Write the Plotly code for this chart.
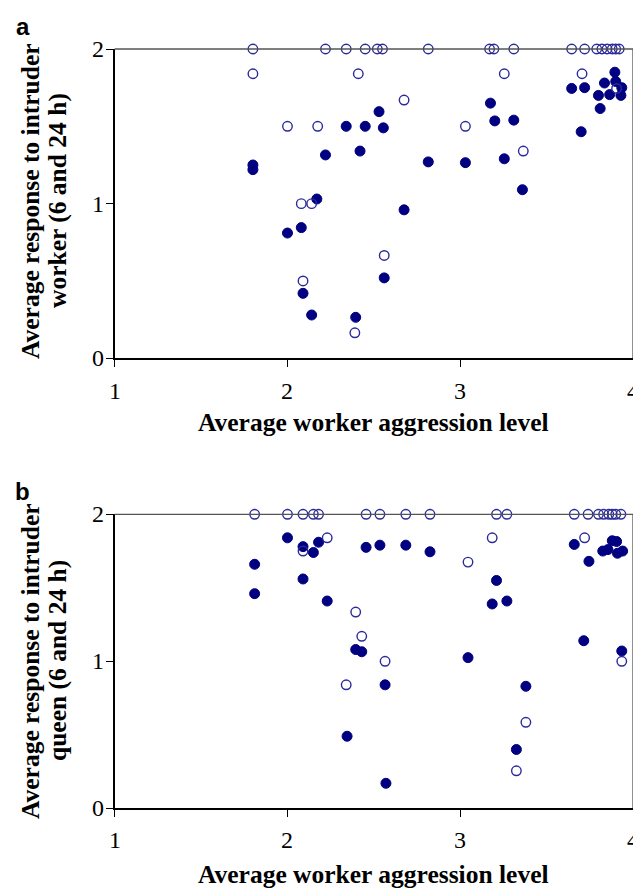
import plotly.graph_objects as go

# ---------------- data ----------------
# Panel a: response to intruder worker
a_filled_x = [1.80, 1.80, 2.00, 2.08, 2.09, 2.14, 2.17, 2.22, 2.34, 2.395, 2.42, 2.45, 2.53, 2.555,
              2.56, 2.675, 2.815, 3.03, 3.175, 3.20, 3.255, 3.31, 3.36, 3.645, 3.70, 3.72, 3.80,
              3.81, 3.835, 3.865, 3.895, 3.90, 3.93, 3.935]
a_filled_y = [1.22, 1.25, 0.81, 0.845, 0.42, 0.28, 1.03, 1.315, 1.50, 0.265, 1.34, 1.50, 1.595, 1.49,
              0.52, 0.96, 1.27, 1.265, 1.65, 1.535, 1.29, 1.54, 1.09, 1.745, 1.465, 1.75, 1.70,
              1.615, 1.78, 1.705, 1.85, 1.79, 1.70, 1.75]
a_open_x = [1.80, 2.22, 2.34, 2.45, 2.52, 2.55, 2.815, 3.17, 3.195, 3.31, 3.645, 3.72, 3.79, 3.82,
            3.85, 3.88, 3.90, 3.92,
            1.80, 2.00, 2.175, 2.08, 2.14, 2.09, 2.39, 2.41, 2.56, 2.675, 3.03, 3.255, 3.365,
            3.705, 3.905]
a_open_y = [2, 2, 2, 2, 2, 2, 2, 2, 2, 2, 2, 2, 2, 2,
            2, 2, 2, 2,
            1.84, 1.50, 1.50, 1.00, 1.00, 0.50, 0.165, 1.84, 0.665, 1.67, 1.50, 1.84, 1.34,
            1.84, 1.745]

# Panel b: response to intruder queen
b_filled_x = [2.00, 2.18, 2.09, 2.15, 1.81, 1.81, 2.09, 2.23, 2.395, 2.43, 2.455, 2.535, 2.685,
              2.825, 3.21, 3.185, 3.27, 3.045, 2.345, 2.565, 2.57, 3.38, 3.325, 3.66, 3.745,
              3.715, 3.825, 3.855, 3.88, 3.905, 3.91, 3.94, 3.935]
b_filled_y = [1.84, 1.81, 1.78, 1.74, 1.66, 1.46, 1.56, 1.41, 1.08, 1.065, 1.775, 1.79, 1.79,
              1.745, 1.55, 1.39, 1.41, 1.025, 0.49, 0.84, 0.17, 0.83, 0.40, 1.795, 1.68,
              1.14, 1.75, 1.76, 1.82, 1.815, 1.735, 1.75, 1.07]
b_open_x = [1.81, 2.00, 2.09, 2.15, 2.18, 2.455, 2.535, 2.685, 2.825, 3.21, 3.27, 3.66, 3.74,
            3.80, 3.83, 3.86, 3.88, 3.90, 3.93,
            2.23, 2.09, 2.395, 2.43, 2.565, 2.34, 3.045, 3.185, 3.72, 3.38, 3.325, 3.935]
b_open_y = [2, 2, 2, 2, 2, 2, 2, 2, 2, 2, 2, 2, 2,
            2, 2, 2, 2, 2, 2,
            1.84, 1.75, 1.335, 1.17, 1.00, 0.84, 1.675, 1.84, 1.84, 0.585, 0.255, 1.00]

x_ticks = [1, 2, 3, 4]
y_ticks = [0, 1, 2]
x_tick_labels = ["1", "2", "3", "4"]
y_tick_labels = ["0", "1", "2"]
x_title = "Average worker aggression level"
y_title_a = ["Average response to intruder", "worker (6 and 24 h)"]
y_title_b = ["Average response to intruder", "queen (6 and 24 h)"]
panel_labels = ["a", "b"]

# ---------------- layout ----------------
# The page body has an 8px margin, so the figure sits at (8, 8) inside the
# 641x891 window; page-pixel positions are converted to paper fractions.
PAGE_W, PAGE_H = 641, 891
OFF = 8
W, H = PAGE_W - OFF, PAGE_H - OFF


def px(xp):
    return (xp - OFF) / W


def py(yp):
    return (PAGE_H - yp) / H


NAVY = "#000080"
SERIF = "Liberation Serif, Times New Roman, serif"
SANS = "Liberation Sans, Arial, sans-serif"

x_dom = [px(114.7), px(633)]
ya_dom = [py(358.3), py(49)]
yb_dom = [py(808.3), py(514.3)]

fig = go.Figure()


def add_panel(fx, fy, ox, oy, xa, ya):
    fig.add_trace(go.Scatter(
        x=fx, y=fy, mode="markers", xaxis=xa, yaxis=ya, cliponaxis=False,
        marker=dict(symbol="circle", size=10, color=NAVY, line=dict(color=NAVY, width=1)),
        showlegend=False, hoverinfo="x+y"))
    fig.add_trace(go.Scatter(
        x=ox, y=oy, mode="markers", xaxis=xa, yaxis=ya, cliponaxis=False,
        marker=dict(symbol="circle-open", size=9.5, color="#2a2a9a", line=dict(width=1.4)),
        showlegend=False, hoverinfo="x+y"))


add_panel(a_filled_x, a_filled_y, a_open_x, a_open_y, "x", "y")
add_panel(b_filled_x, b_filled_y, b_open_x, b_open_y, "x2", "y2")

xaxis_common = dict(
    range=[1, 4], tickmode="array", tickvals=x_ticks, showticklabels=False,
    showgrid=False, zeroline=False, showline=True, linecolor="black", linewidth=1.5,
    ticks="outside", ticklen=7, tickwidth=1.2, tickcolor="black", fixedrange=True,
)
yaxis_common = dict(
    range=[0, 2], tickmode="array", tickvals=y_ticks, showticklabels=False,
    showgrid=False, zeroline=False, showline=True, linecolor="black", linewidth=1.5,
    ticks="outside", ticklen=7, tickwidth=1.2, tickcolor="black", fixedrange=True,
)

fig.update_layout(
    width=W, height=H, autosize=False,
    margin=dict(l=0, r=0, t=0, b=0),
    paper_bgcolor="white", plot_bgcolor="white",
    xaxis=dict(domain=x_dom, anchor="y", **xaxis_common),
    yaxis=dict(domain=ya_dom, anchor="x", **yaxis_common),
    xaxis2=dict(domain=x_dom, anchor="y2", **xaxis_common),
    yaxis2=dict(domain=yb_dom, anchor="x2", **yaxis_common),
)

# top and right frame lines (grey)
for xa, ya in (("x", "y"), ("x2", "y2")):
    fig.add_shape(type="line", xref=f"{xa} domain", yref=f"{ya} domain",
                  x0=0, x1=1, y0=1, y1=1, line=dict(color="#555555", width=1.3))
    fig.add_shape(type="line", xref=f"{xa} domain", yref=f"{ya} domain",
                  x0=1, x1=1, y0=0, y1=1, line=dict(color="#555555", width=1.3))

TICKFONT = dict(family=SERIF, size=24, color="black")
TITLEFONT = dict(family=SERIF, size=25.5, color="black")

annotations = []
# tick labels
for xa, ya, xlab_pix in (("x", "y", 391), ("x2", "y2", 840)):
    for v, t in zip(x_ticks, x_tick_labels):
        annotations.append(dict(text=t, x=v, xref=xa, y=py(xlab_pix), yref="paper",
                                xanchor="center", yanchor="middle", showarrow=False, font=TICKFONT))
    for v, t in zip(y_ticks, y_tick_labels):
        annotations.append(dict(text=t, x=px(106), xref="paper", y=v, yref=ya,
                                xanchor="right", yanchor="middle", showarrow=False, font=TICKFONT))

xc = (x_dom[0] + x_dom[1]) / 2
# x titles
for ypix in (423, 874):
    annotations.append(dict(text=f"<b>{x_title}</b>", x=xc, y=py(ypix), xref="paper", yref="paper",
                            xanchor="center", yanchor="middle", showarrow=False, font=TITLEFONT))
# y titles (two lines each, rotated)
for lines, yc in ((y_title_a, 201), (y_title_b, 661)):
    for line, xpix in zip(lines, (30, 57)):
        annotations.append(dict(text=f"<b>{line}</b>", x=px(xpix), y=py(yc),
                                xref="paper", yref="paper", textangle=-90,
                                xanchor="center", yanchor="middle", showarrow=False, font=TITLEFONT))
# panel letters
for lab, ypix in zip(panel_labels, (26, 491)):
    annotations.append(dict(text=f"<b>{lab}</b>", x=px(23), y=py(ypix), xref="paper", yref="paper",
                            xanchor="center", yanchor="middle", showarrow=False,
                            font=dict(family=SANS, size=24, color="black")))
fig.update_layout(annotations=annotations)

fig.write_html("out.html")
